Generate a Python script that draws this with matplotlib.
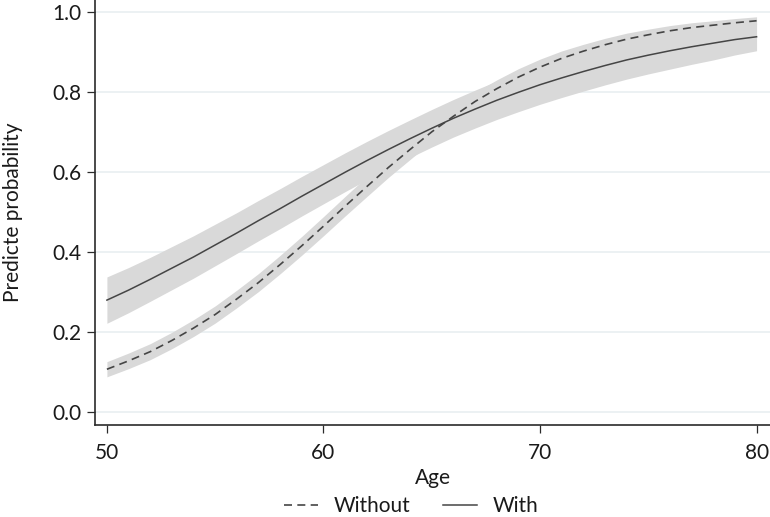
import matplotlib
matplotlib.use("Agg")
from matplotlib import pyplot as plt

# predicted probability by age
age = list(range(50, 81))

without_p = [0.107, 0.128, 0.151, 0.179, 0.210, 0.244, 0.283, 0.324,
             0.369, 0.416, 0.465, 0.515, 0.564, 0.612, 0.657, 0.701,
             0.740, 0.777, 0.809, 0.838, 0.863, 0.885, 0.903, 0.919,
             0.933, 0.944, 0.954, 0.962, 0.968, 0.974, 0.979]
# half width of the shaded 95% band
without_ci = [0.019, 0.0195, 0.020, 0.0205, 0.021, 0.0215, 0.022, 0.0225,
              0.023, 0.0235, 0.024, 0.0245, 0.025, 0.025, 0.025, 0.0245,
              0.024, 0.023, 0.022, 0.021, 0.020, 0.0185, 0.017, 0.016,
              0.015, 0.014, 0.013, 0.012, 0.011, 0.0105, 0.010]

with_p = [0.280, 0.305, 0.332, 0.360, 0.388, 0.418, 0.448, 0.479,
          0.509, 0.540, 0.570, 0.600, 0.629, 0.657, 0.684, 0.710,
          0.735, 0.758, 0.780, 0.800, 0.819, 0.836, 0.852, 0.867,
          0.881, 0.893, 0.904, 0.914, 0.923, 0.932, 0.939]
with_ci = [0.058, 0.0565, 0.055, 0.054, 0.053, 0.052, 0.051, 0.0505,
           0.050, 0.0495, 0.049, 0.0485, 0.048, 0.0475, 0.047, 0.047,
           0.047, 0.0475, 0.048, 0.0485, 0.049, 0.049, 0.049, 0.0485,
           0.048, 0.047, 0.046, 0.044, 0.042, 0.0385, 0.035]

x_ticks = [50, 60, 70, 80]
y_ticks = [0.0, 0.2, 0.4, 0.6, 0.8, 1.0]

plt.rcParams["font.family"] = ["Lato", "DejaVu Sans"]
plt.rcParams["font.size"] = 15

fig = plt.figure(figsize=(7.7, 5.17), dpi=100)
ax = fig.add_axes([95 / 770, 92 / 517, 675 / 770, 425 / 517])

band = "#d9d9d9"
line = "#454545"

with_lo = [p - c for p, c in zip(with_p, with_ci)]
with_hi = [p + c for p, c in zip(with_p, with_ci)]
without_lo = [p - c for p, c in zip(without_p, without_ci)]
without_hi = [p + c for p, c in zip(without_p, without_ci)]

ax.fill_between(age, with_lo, with_hi, color=band, lw=0, zorder=2)
ax.fill_between(age, without_lo, without_hi, color=band, lw=0, zorder=2)
ax.plot(age, without_p, color=line, lw=1.2, dashes=(4.8, 3.2), label="Without", zorder=3)
ax.plot(age, with_p, color=line, lw=1.1, label="With", zorder=3)

ax.set_xlim(49.45, 80.62)
ax.set_ylim(-0.0325, 1.031)
ax.set_xticks(x_ticks)
ax.set_yticks(y_ticks)
ax.set_yticklabels([f"{v:.1f}" for v in y_ticks])
ax.yaxis.grid(True, color="#e9eff1", lw=1.2, zorder=0)
ax.set_axisbelow(True)

for side in ("top", "right"):
    ax.spines[side].set_visible(False)
for side in ("left", "bottom"):
    ax.spines[side].set_color("#2b2b2b")
    ax.spines[side].set_linewidth(1.2)
ax.tick_params(direction="out", length=5.8, width=0.9, color="#2b2b2b", labelcolor="#1a1a1a")
ax.tick_params(axis="x", pad=7)
ax.tick_params(axis="y", pad=4)

ax.set_xlabel("Age", labelpad=4, color="#1a1a1a")
ax.set_ylabel("Predicte probability", color="#1a1a1a")
ax.yaxis.set_label_coords(-0.106, 0.5)

# legend sits right at the bottom edge, as in the original
fig.legend(loc="center", bbox_to_anchor=(0.534, 1 - 506 / 517), ncol=2, frameon=False,
           handlelength=1.6, handletextpad=0.75, columnspacing=1.6, labelcolor="#1a1a1a",
           borderpad=0.1)

fig.savefig("out.png", dpi=100)
